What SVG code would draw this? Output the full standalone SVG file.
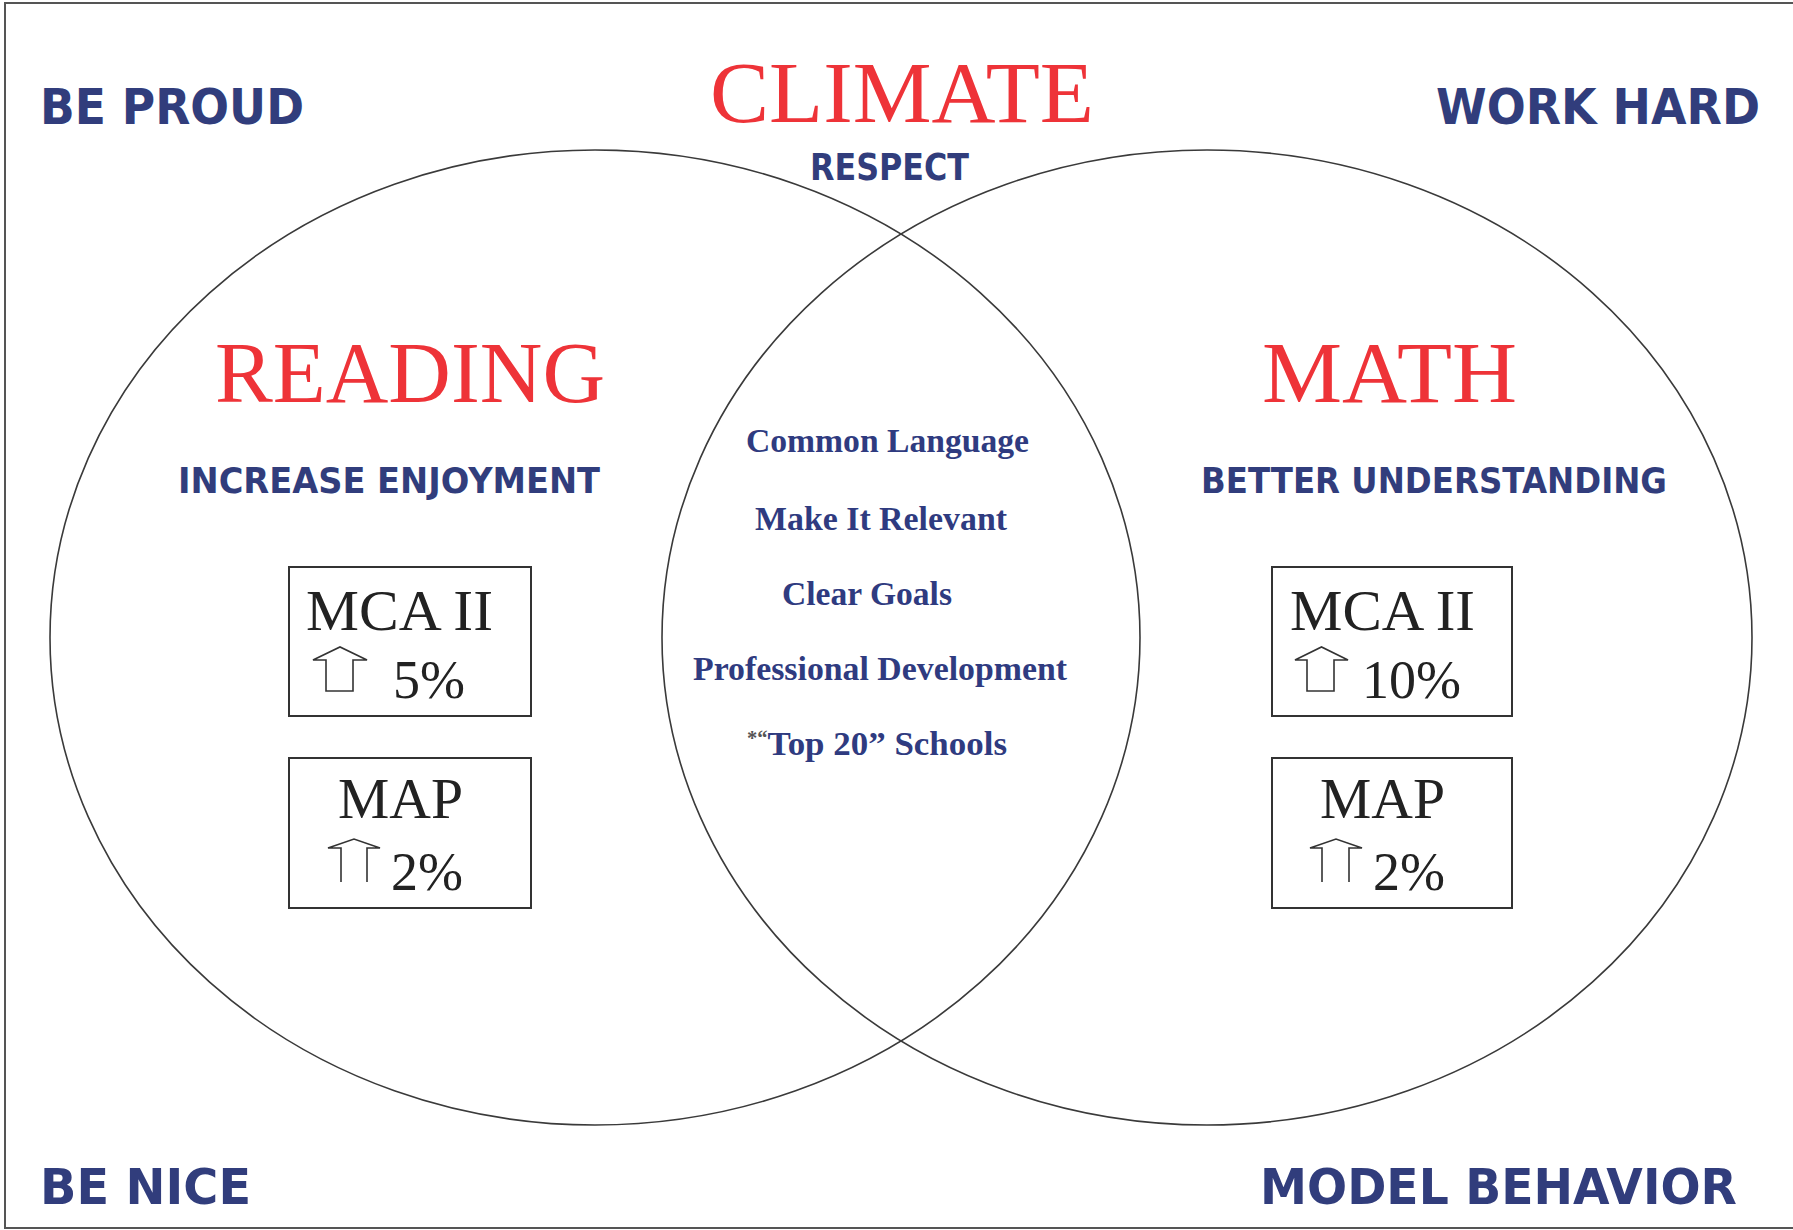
<svg xmlns="http://www.w3.org/2000/svg" width="1793" height="1230" viewBox="0 0 1793 1230">
<style>
.lbl{font-family:"DejaVu Sans","Liberation Sans",sans-serif;font-weight:bold;fill:#313d7c}
.big{font-family:"Liberation Serif","Times New Roman",serif;fill:#ee3338}
.mid{font-family:"Liberation Serif","Times New Roman",serif;font-weight:bold;fill:#2f3b80;font-size:34px}
.box{fill:none;stroke:#333;stroke-width:2}
.bt{font-family:"Liberation Serif","Times New Roman",serif;fill:#222}
.arr{fill:none;stroke:#333;stroke-width:1.6}
.circ{fill:none;stroke:#3a3a3a;stroke-width:1.6}
</style>
<rect x="0" y="0" width="1793" height="1230" fill="#fff"/>
<rect x="5" y="3" width="1800" height="1225" fill="none" stroke="#555" stroke-width="2"/>
<g id="venn">
<ellipse id="reading-circle" class="circ" cx="595" cy="637.5" rx="545" ry="487.5"/>
<ellipse id="math-circle" class="circ" cx="1207" cy="637.5" rx="545" ry="487.5"/>
</g>
<g id="corners">
<text class="lbl" x="40" y="124" font-size="50" textLength="264" lengthAdjust="spacingAndGlyphs">BE PROUD</text>
<text class="lbl" x="1436" y="124" font-size="50" textLength="324" lengthAdjust="spacingAndGlyphs">WORK HARD</text>
<text class="lbl" x="40" y="1204" font-size="50" textLength="211" lengthAdjust="spacingAndGlyphs">BE NICE</text>
<text class="lbl" x="1260" y="1204" font-size="50" textLength="477" lengthAdjust="spacingAndGlyphs">MODEL BEHAVIOR</text>
</g>
<g id="climate">
<text class="big" x="710" y="122" font-size="86" textLength="384" lengthAdjust="spacingAndGlyphs">CLIMATE</text>
<text class="lbl" x="810" y="180" font-size="38" textLength="159" lengthAdjust="spacingAndGlyphs">RESPECT</text>
</g>
<g id="reading">
<text class="big" x="215" y="402" font-size="86" textLength="390" lengthAdjust="spacingAndGlyphs">READING</text>
<text class="lbl" x="178" y="493" font-size="35" textLength="422" lengthAdjust="spacingAndGlyphs">INCREASE ENJOYMENT</text>
</g>
<g id="math">
<text class="big" x="1262" y="402" font-size="86" textLength="255" lengthAdjust="spacingAndGlyphs">MATH</text>
<text class="lbl" x="1201" y="493" font-size="35" textLength="466" lengthAdjust="spacingAndGlyphs">BETTER UNDERSTANDING</text>
</g>
<g id="shared">
<text class="mid" x="746" y="452" textLength="283" lengthAdjust="spacingAndGlyphs">Common Language</text>
<text class="mid" x="755" y="530" textLength="252" lengthAdjust="spacingAndGlyphs">Make It Relevant</text>
<text class="mid" x="782" y="605" textLength="170" lengthAdjust="spacingAndGlyphs">Clear Goals</text>
<text class="mid" x="693" y="680" textLength="374" lengthAdjust="spacingAndGlyphs">Professional Development</text>
<text class="mid" x="747" y="755" textLength="260" lengthAdjust="spacingAndGlyphs"><tspan font-size="20" fill="#555" dy="-10">*“</tspan><tspan dy="10">Top 20” Schools</tspan></text>
</g>
<g id="reading-mca">
<rect class="box" x="289" y="567" width="242" height="149"/>
<text class="bt" x="306" y="630" font-size="57" textLength="187" lengthAdjust="spacingAndGlyphs">MCA II</text>
<path class="arr" d="M326,691 V660 H313 L340,647 L367,660 H353 V691 Z"/>
<text class="bt" x="393" y="698" font-size="54">5%</text>
</g>
<g id="reading-map">
<rect class="box" x="289" y="758" width="242" height="150"/>
<text class="bt" x="338" y="818" font-size="57" textLength="125" lengthAdjust="spacingAndGlyphs">MAP</text>
<path class="arr" d="M341,882 V848 H328 L354,839 L380,848 H367 V882"/>
<text class="bt" x="391" y="890" font-size="54">2%</text>
</g>
<g id="math-mca">
<rect class="box" x="1272" y="567" width="240" height="149"/>
<text class="bt" x="1290" y="630" font-size="57" textLength="185" lengthAdjust="spacingAndGlyphs">MCA II</text>
<path class="arr" d="M1307,691 V660 H1295 L1321.5,647 L1348,660 H1334 V691 Z"/>
<text class="bt" x="1362" y="698" font-size="54">10%</text>
</g>
<g id="math-map">
<rect class="box" x="1272" y="758" width="240" height="150"/>
<text class="bt" x="1320" y="818" font-size="57" textLength="125" lengthAdjust="spacingAndGlyphs">MAP</text>
<path class="arr" d="M1322,882 V848 H1310 L1336,839 L1362,848 H1349 V882"/>
<text class="bt" x="1373" y="890" font-size="54">2%</text>
</g>
<g id="connectors"/>
</svg>
